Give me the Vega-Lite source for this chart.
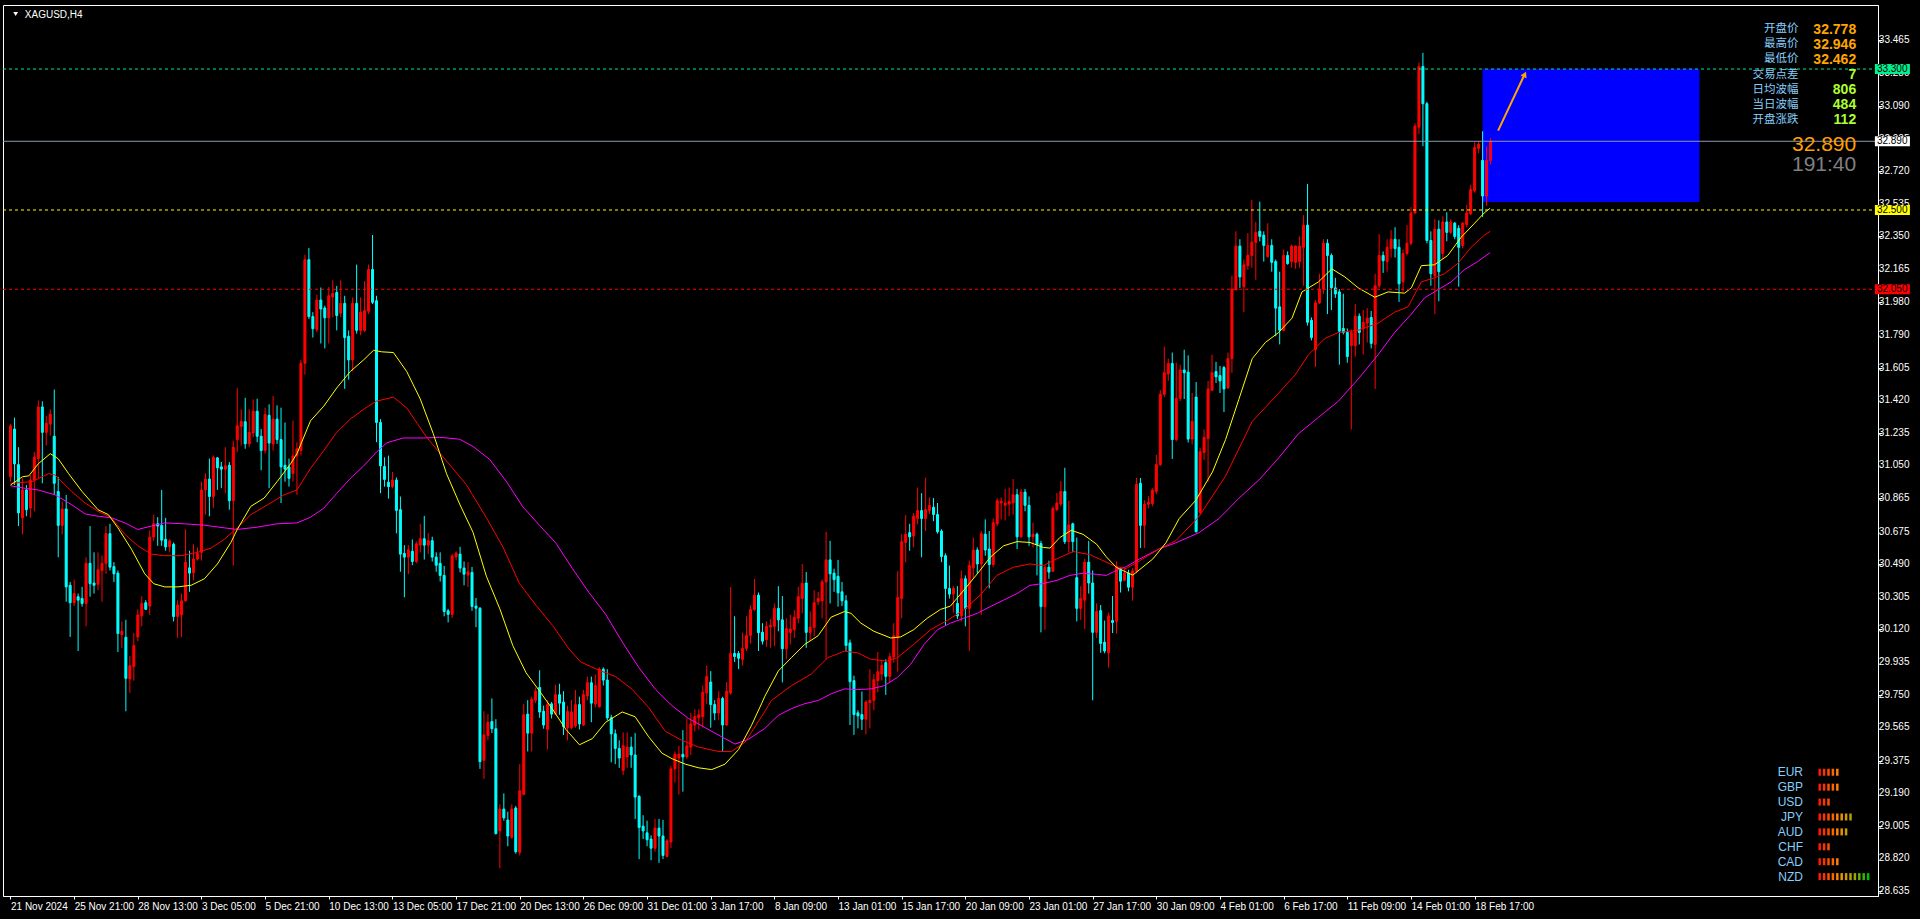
{
"$schema": "https://vega.github.io/schema/vega-lite/v6.json",
"width": 1875, "height": 891,
"autosize": {"type": "none"},
"padding": {"left": 3, "top": 5, "right": 42, "bottom": 23},
"background": "#000000",
"config": {"view": {"stroke": "#ffffff", "strokeWidth": 1}, "axis": {"grid": false, "labelOverlap": false}, "axisY": {"labelOverlap": false, "labelSeparation": -30}},
"datasets": {
"candles": [
{"i":0,"o":30.986,"h":31.285,"l":30.958,"c":31.275},{"i":1,"o":31.257,"h":31.322,"l":30.939,"c":31.059},{"i":2,"o":31.055,"h":31.154,"l":30.706,"c":30.781},{"i":3,"o":30.753,"h":30.977,"l":30.659,"c":30.911},{"i":4,"o":30.911,"h":30.939,"l":30.762,"c":30.799},{"i":5,"o":30.809,"h":30.995,"l":30.753,"c":30.967},{"i":6,"o":30.967,"h":31.126,"l":30.790,"c":31.098},{"i":7,"o":31.089,"h":31.419,"l":30.977,"c":31.382},{"i":8,"o":31.382,"h":31.414,"l":30.949,"c":31.238},{"i":9,"o":31.238,"h":31.332,"l":31.163,"c":31.290},
{"i":10,"o":31.285,"h":31.369,"l":31.219,"c":31.341},{"i":11,"o":31.216,"h":31.481,"l":30.883,"c":30.949},{"i":12,"o":30.902,"h":30.986,"l":30.529,"c":30.710},{"i":13,"o":30.710,"h":30.846,"l":30.659,"c":30.803},{"i":14,"o":30.803,"h":30.883,"l":30.277,"c":30.361},{"i":15,"o":30.370,"h":30.389,"l":30.077,"c":30.271},{"i":16,"o":30.271,"h":30.402,"l":30.252,"c":30.323},{"i":17,"o":30.305,"h":30.323,"l":29.997,"c":30.286},{"i":18,"o":30.295,"h":30.361,"l":30.249,"c":30.267},{"i":19,"o":30.267,"h":30.529,"l":30.137,"c":30.495},
{"i":20,"o":30.495,"h":30.706,"l":30.305,"c":30.379},{"i":21,"o":30.383,"h":30.557,"l":30.323,"c":30.370},{"i":22,"o":30.376,"h":30.557,"l":30.342,"c":30.458},{"i":23,"o":30.454,"h":30.538,"l":30.277,"c":30.495},{"i":24,"o":30.495,"h":30.706,"l":30.435,"c":30.663},{"i":25,"o":30.663,"h":30.719,"l":30.454,"c":30.473},{"i":26,"o":30.476,"h":30.501,"l":30.389,"c":30.435},{"i":27,"o":30.439,"h":30.454,"l":29.991,"c":30.096},{"i":28,"o":30.090,"h":30.165,"l":30.015,"c":30.109},{"i":29,"o":30.075,"h":30.174,"l":29.655,"c":29.842},
{"i":30,"o":29.838,"h":29.969,"l":29.760,"c":29.913},{"i":31,"o":29.909,"h":30.099,"l":29.829,"c":30.028},{"i":32,"o":30.077,"h":30.234,"l":30.053,"c":30.202},{"i":33,"o":30.196,"h":30.308,"l":30.137,"c":30.267},{"i":34,"o":30.271,"h":30.286,"l":30.230,"c":30.234},{"i":35,"o":30.252,"h":30.682,"l":30.202,"c":30.644},{"i":36,"o":30.644,"h":30.771,"l":30.622,"c":30.719},{"i":37,"o":30.719,"h":30.757,"l":30.594,"c":30.706},{"i":38,"o":30.710,"h":30.911,"l":30.594,"c":30.626},{"i":39,"o":30.631,"h":30.753,"l":30.566,"c":30.588},
{"i":40,"o":30.588,"h":30.631,"l":30.557,"c":30.622},{"i":41,"o":30.603,"h":30.613,"l":30.165,"c":30.193},{"i":42,"o":30.193,"h":30.286,"l":30.071,"c":30.258},{"i":43,"o":30.202,"h":30.323,"l":30.077,"c":30.282},{"i":44,"o":30.282,"h":30.687,"l":30.277,"c":30.501},{"i":45,"o":30.469,"h":30.566,"l":30.333,"c":30.439},{"i":46,"o":30.441,"h":30.603,"l":30.398,"c":30.519},{"i":47,"o":30.519,"h":30.585,"l":30.510,"c":30.551},{"i":48,"o":30.557,"h":30.958,"l":30.510,"c":30.911},{"i":49,"o":30.911,"h":31.005,"l":30.771,"c":30.973},
{"i":50,"o":30.973,"h":31.089,"l":30.762,"c":30.874},{"i":51,"o":30.874,"h":31.107,"l":30.809,"c":31.096},{"i":52,"o":31.093,"h":31.098,"l":30.911,"c":31.037},{"i":53,"o":31.042,"h":31.070,"l":30.921,"c":31.029},{"i":54,"o":31.029,"h":31.154,"l":30.893,"c":31.048},{"i":55,"o":31.051,"h":31.070,"l":30.799,"c":30.850},{"i":56,"o":30.850,"h":31.191,"l":30.482,"c":31.154},{"i":57,"o":31.197,"h":31.490,"l":31.126,"c":31.275},{"i":58,"o":31.272,"h":31.369,"l":31.163,"c":31.300},{"i":59,"o":31.298,"h":31.434,"l":31.145,"c":31.173},
{"i":60,"o":31.173,"h":31.369,"l":31.154,"c":31.238},{"i":61,"o":31.234,"h":31.425,"l":31.210,"c":31.358},{"i":62,"o":31.358,"h":31.429,"l":31.182,"c":31.216},{"i":63,"o":31.216,"h":31.257,"l":31.023,"c":31.135},{"i":64,"o":31.135,"h":31.378,"l":31.117,"c":31.339},{"i":65,"o":31.335,"h":31.397,"l":30.921,"c":31.177},{"i":66,"o":31.173,"h":31.444,"l":31.135,"c":31.313},{"i":67,"o":31.313,"h":31.391,"l":31.173,"c":31.197},{"i":68,"o":31.197,"h":31.378,"l":30.837,"c":31.042},{"i":69,"o":31.051,"h":31.294,"l":30.958,"c":31.029},
{"i":70,"o":31.042,"h":31.089,"l":30.930,"c":30.977},{"i":71,"o":31.005,"h":31.304,"l":30.958,"c":31.104},{"i":72,"o":31.104,"h":31.182,"l":30.883,"c":31.145},{"i":73,"o":31.135,"h":31.649,"l":31.107,"c":31.630},{"i":74,"o":31.630,"h":32.246,"l":31.565,"c":32.218},{"i":75,"o":32.218,"h":32.284,"l":31.882,"c":31.895},{"i":76,"o":31.895,"h":31.920,"l":31.776,"c":31.826},{"i":77,"o":31.821,"h":32.019,"l":31.808,"c":31.989},{"i":78,"o":31.989,"h":32.060,"l":31.742,"c":31.938},{"i":79,"o":31.944,"h":31.957,"l":31.714,"c":31.888},
{"i":80,"o":31.888,"h":32.063,"l":31.742,"c":32.013},{"i":81,"o":32.007,"h":32.101,"l":31.892,"c":32.026},{"i":82,"o":32.032,"h":32.069,"l":31.817,"c":31.901},{"i":83,"o":31.914,"h":32.101,"l":31.892,"c":31.970},{"i":84,"o":31.970,"h":32.013,"l":31.485,"c":31.776},{"i":85,"o":31.783,"h":31.817,"l":31.537,"c":31.649},{"i":86,"o":31.649,"h":32.004,"l":31.584,"c":31.970},{"i":87,"o":31.970,"h":32.190,"l":31.798,"c":31.817},{"i":88,"o":31.817,"h":32.004,"l":31.789,"c":31.920},{"i":89,"o":31.817,"h":32.097,"l":31.808,"c":31.929},
{"i":90,"o":31.925,"h":32.190,"l":31.910,"c":32.162},{"i":91,"o":32.162,"h":32.358,"l":31.966,"c":31.976},{"i":92,"o":31.985,"h":32.013,"l":31.182,"c":31.294},{"i":93,"o":31.294,"h":31.313,"l":30.893,"c":31.048},{"i":94,"o":31.044,"h":31.096,"l":30.930,"c":30.971},{"i":95,"o":30.955,"h":31.106,"l":30.862,"c":30.930},{"i":96,"o":30.930,"h":31.013,"l":30.920,"c":30.967},{"i":97,"o":30.967,"h":30.982,"l":30.665,"c":30.795},{"i":98,"o":30.799,"h":30.874,"l":30.447,"c":30.547},{"i":99,"o":30.551,"h":30.598,"l":30.302,"c":30.530},
{"i":100,"o":30.530,"h":30.598,"l":30.433,"c":30.571},{"i":101,"o":30.563,"h":30.630,"l":30.484,"c":30.505},{"i":102,"o":30.505,"h":30.619,"l":30.495,"c":30.605},{"i":103,"o":30.598,"h":30.717,"l":30.557,"c":30.634},{"i":104,"o":30.634,"h":30.764,"l":30.516,"c":30.598},{"i":105,"o":30.598,"h":30.665,"l":30.547,"c":30.623},{"i":106,"o":30.623,"h":30.646,"l":30.505,"c":30.530},{"i":107,"o":30.530,"h":30.557,"l":30.447,"c":30.484},{"i":108,"o":30.495,"h":30.557,"l":30.391,"c":30.426},{"i":109,"o":30.426,"h":30.480,"l":30.194,"c":30.221},
{"i":110,"o":30.225,"h":30.236,"l":30.159,"c":30.205},{"i":111,"o":30.205,"h":30.547,"l":30.184,"c":30.536},{"i":112,"o":30.532,"h":30.563,"l":30.511,"c":30.553},{"i":113,"o":30.547,"h":30.588,"l":30.443,"c":30.468},{"i":114,"o":30.468,"h":30.505,"l":30.370,"c":30.433},{"i":115,"o":30.428,"h":30.501,"l":30.360,"c":30.447},{"i":116,"o":30.443,"h":30.474,"l":30.225,"c":30.250},{"i":117,"o":30.252,"h":30.298,"l":30.132,"c":30.240},{"i":118,"o":30.240,"h":30.246,"l":29.328,"c":29.369},{"i":119,"o":29.376,"h":29.655,"l":29.272,"c":29.521},
{"i":120,"o":29.517,"h":29.639,"l":29.490,"c":29.593},{"i":121,"o":29.597,"h":29.728,"l":29.531,"c":29.556},{"i":122,"o":29.556,"h":29.610,"l":28.955,"c":28.961},{"i":123,"o":28.976,"h":29.127,"l":28.764,"c":29.100},{"i":124,"o":29.100,"h":29.189,"l":29.034,"c":29.050},{"i":125,"o":29.038,"h":29.085,"l":28.889,"c":28.947},{"i":126,"o":28.940,"h":29.127,"l":28.930,"c":29.100},{"i":127,"o":29.106,"h":29.117,"l":28.847,"c":28.858},{"i":128,"o":28.855,"h":29.355,"l":28.837,"c":29.204},{"i":129,"o":29.183,"h":29.697,"l":29.179,"c":29.635},
{"i":130,"o":29.639,"h":29.718,"l":29.427,"c":29.531},{"i":131,"o":29.531,"h":29.738,"l":29.427,"c":29.722},{"i":132,"o":29.718,"h":29.790,"l":29.701,"c":29.769},{"i":133,"o":29.790,"h":29.888,"l":29.618,"c":29.651},{"i":134,"o":29.655,"h":29.687,"l":29.556,"c":29.577},{"i":135,"o":29.552,"h":29.718,"l":29.438,"c":29.693},{"i":136,"o":29.697,"h":29.707,"l":29.614,"c":29.639},{"i":137,"o":29.639,"h":29.805,"l":29.635,"c":29.749},{"i":138,"o":29.749,"h":29.811,"l":29.635,"c":29.701},{"i":139,"o":29.707,"h":29.769,"l":29.521,"c":29.568},
{"i":140,"o":29.562,"h":29.687,"l":29.490,"c":29.655},{"i":141,"o":29.562,"h":29.718,"l":29.552,"c":29.651},{"i":142,"o":29.572,"h":29.776,"l":29.562,"c":29.693},{"i":143,"o":29.693,"h":29.738,"l":29.552,"c":29.583},{"i":144,"o":29.577,"h":29.776,"l":29.572,"c":29.749},{"i":145,"o":29.742,"h":29.852,"l":29.718,"c":29.817},{"i":146,"o":29.817,"h":29.852,"l":29.593,"c":29.701},{"i":147,"o":29.697,"h":29.863,"l":29.676,"c":29.801},{"i":148,"o":29.680,"h":29.904,"l":29.676,"c":29.894},{"i":149,"o":29.894,"h":29.904,"l":29.801,"c":29.832},
{"i":150,"o":29.832,"h":29.894,"l":29.604,"c":29.618},{"i":151,"o":29.618,"h":29.635,"l":29.365,"c":29.527},{"i":152,"o":29.527,"h":29.552,"l":29.355,"c":29.444},{"i":153,"o":29.444,"h":29.490,"l":29.334,"c":29.390},{"i":154,"o":29.320,"h":29.535,"l":29.293,"c":29.459},{"i":155,"o":29.396,"h":29.535,"l":29.334,"c":29.452},{"i":156,"o":29.452,"h":29.510,"l":29.334,"c":29.407},{"i":157,"o":29.407,"h":29.531,"l":29.044,"c":29.168},{"i":158,"o":29.172,"h":29.179,"l":28.816,"c":28.996},{"i":159,"o":29.003,"h":29.065,"l":28.930,"c":28.976},
{"i":160,"o":28.965,"h":29.034,"l":28.889,"c":28.926},{"i":161,"o":28.930,"h":28.951,"l":28.810,"c":28.878},{"i":162,"o":28.878,"h":29.044,"l":28.858,"c":28.992},{"i":163,"o":28.992,"h":29.044,"l":28.795,"c":28.947},{"i":164,"o":28.947,"h":29.038,"l":28.816,"c":28.837},{"i":165,"o":28.831,"h":28.930,"l":28.826,"c":28.920},{"i":166,"o":28.913,"h":29.345,"l":28.878,"c":29.328},{"i":167,"o":29.328,"h":29.427,"l":29.251,"c":29.411},{"i":168,"o":29.390,"h":29.459,"l":29.183,"c":29.411},{"i":169,"o":29.411,"h":29.548,"l":29.199,"c":29.396},
{"i":170,"o":29.396,"h":29.614,"l":29.386,"c":29.459},{"i":171,"o":29.452,"h":29.645,"l":29.407,"c":29.583},{"i":172,"o":29.577,"h":29.666,"l":29.541,"c":29.624},{"i":173,"o":29.618,"h":29.666,"l":29.552,"c":29.635},{"i":174,"o":29.624,"h":29.801,"l":29.562,"c":29.763},{"i":175,"o":29.759,"h":29.914,"l":29.697,"c":29.852},{"i":176,"o":29.821,"h":29.883,"l":29.562,"c":29.693},{"i":177,"o":29.693,"h":29.718,"l":29.604,"c":29.645},{"i":178,"o":29.645,"h":29.769,"l":29.604,"c":29.728},{"i":179,"o":29.728,"h":29.738,"l":29.427,"c":29.577},
{"i":180,"o":29.577,"h":29.821,"l":29.572,"c":29.769},{"i":181,"o":29.759,"h":30.360,"l":29.749,"c":29.983},{"i":182,"o":29.983,"h":30.194,"l":29.935,"c":29.966},{"i":183,"o":29.983,"h":29.997,"l":29.894,"c":29.956},{"i":184,"o":29.950,"h":30.101,"l":29.914,"c":30.012},{"i":185,"o":30.012,"h":30.194,"l":29.997,"c":30.086},{"i":186,"o":30.086,"h":30.256,"l":30.039,"c":30.232},{"i":187,"o":30.232,"h":30.406,"l":30.225,"c":30.314},{"i":188,"o":30.314,"h":30.329,"l":29.997,"c":30.101},{"i":189,"o":30.103,"h":30.155,"l":30.034,"c":30.053},
{"i":190,"o":30.062,"h":30.165,"l":30.021,"c":30.137},{"i":191,"o":30.133,"h":30.178,"l":30.015,"c":30.142},{"i":192,"o":30.137,"h":30.267,"l":30.025,"c":30.239},{"i":193,"o":30.239,"h":30.365,"l":30.109,"c":30.174},{"i":194,"o":30.174,"h":30.309,"l":29.819,"c":30.010},{"i":195,"o":30.010,"h":30.183,"l":29.950,"c":30.124},{"i":196,"o":30.103,"h":30.202,"l":30.034,"c":30.122},{"i":197,"o":30.118,"h":30.230,"l":30.071,"c":30.189},{"i":198,"o":30.183,"h":30.361,"l":30.155,"c":30.305},{"i":199,"o":30.295,"h":30.491,"l":30.211,"c":30.380},
{"i":200,"o":30.383,"h":30.445,"l":30.015,"c":30.103},{"i":201,"o":30.103,"h":30.221,"l":30.053,"c":30.133},{"i":202,"o":30.131,"h":30.342,"l":30.081,"c":30.271},{"i":203,"o":30.277,"h":30.333,"l":30.258,"c":30.295},{"i":204,"o":30.282,"h":30.402,"l":30.183,"c":30.389},{"i":205,"o":30.389,"h":30.674,"l":29.950,"c":30.514},{"i":206,"o":30.514,"h":30.622,"l":30.267,"c":30.435},{"i":207,"o":30.439,"h":30.464,"l":30.333,"c":30.402},{"i":208,"o":30.421,"h":30.514,"l":30.249,"c":30.327},{"i":209,"o":30.333,"h":30.389,"l":30.253,"c":30.282},
{"i":210,"o":30.282,"h":30.314,"l":29.997,"c":30.029},{"i":211,"o":30.043,"h":30.062,"l":29.577,"c":29.823},{"i":212,"o":29.829,"h":29.857,"l":29.521,"c":29.636},{"i":213,"o":29.646,"h":29.661,"l":29.558,"c":29.629},{"i":214,"o":29.636,"h":29.767,"l":29.549,"c":29.610},{"i":215,"o":29.610,"h":29.717,"l":29.524,"c":29.707},{"i":216,"o":29.704,"h":29.894,"l":29.558,"c":29.717},{"i":217,"o":29.717,"h":29.866,"l":29.661,"c":29.834},{"i":218,"o":29.829,"h":29.991,"l":29.763,"c":29.879},{"i":219,"o":29.866,"h":29.941,"l":29.829,"c":29.916},
{"i":220,"o":29.931,"h":29.950,"l":29.748,"c":29.853},{"i":221,"o":29.853,"h":29.987,"l":29.819,"c":29.965},{"i":222,"o":29.963,"h":30.155,"l":29.931,"c":30.084},{"i":223,"o":30.071,"h":30.450,"l":29.879,"c":30.301},{"i":224,"o":30.295,"h":30.660,"l":30.183,"c":30.618},{"i":225,"o":30.613,"h":30.768,"l":30.501,"c":30.660},{"i":226,"o":30.669,"h":30.719,"l":30.566,"c":30.645},{"i":227,"o":30.650,"h":30.781,"l":30.585,"c":30.762},{"i":228,"o":30.749,"h":30.925,"l":30.716,"c":30.794},{"i":229,"o":30.794,"h":30.893,"l":30.529,"c":30.749},
{"i":230,"o":30.749,"h":30.981,"l":30.678,"c":30.800},{"i":231,"o":30.794,"h":30.869,"l":30.775,"c":30.824},{"i":232,"o":30.813,"h":30.865,"l":30.734,"c":30.772},{"i":233,"o":30.772,"h":30.837,"l":30.663,"c":30.674},{"i":234,"o":30.678,"h":30.688,"l":30.501,"c":30.533},{"i":235,"o":30.538,"h":30.551,"l":30.141,"c":30.352},{"i":236,"o":30.352,"h":30.482,"l":30.295,"c":30.320},{"i":237,"o":30.320,"h":30.365,"l":30.215,"c":30.352},{"i":238,"o":30.267,"h":30.365,"l":30.178,"c":30.196},{"i":239,"o":30.196,"h":30.454,"l":30.165,"c":30.407},
{"i":240,"o":30.407,"h":30.426,"l":30.137,"c":30.239},{"i":241,"o":30.239,"h":30.510,"l":29.997,"c":30.482},{"i":242,"o":30.469,"h":30.641,"l":30.407,"c":30.570},{"i":243,"o":30.570,"h":30.585,"l":30.435,"c":30.491},{"i":244,"o":30.491,"h":30.678,"l":30.202,"c":30.663},{"i":245,"o":30.660,"h":30.744,"l":30.538,"c":30.570},{"i":246,"o":30.576,"h":30.678,"l":30.352,"c":30.488},{"i":247,"o":30.488,"h":30.749,"l":30.473,"c":30.725},{"i":248,"o":30.719,"h":30.865,"l":30.706,"c":30.850},{"i":249,"o":30.837,"h":30.869,"l":30.744,"c":30.846},
{"i":250,"o":30.824,"h":30.917,"l":30.738,"c":30.837},{"i":251,"o":30.831,"h":30.925,"l":30.762,"c":30.846},{"i":252,"o":30.837,"h":30.973,"l":30.772,"c":30.884},{"i":253,"o":30.884,"h":30.917,"l":30.576,"c":30.645},{"i":254,"o":30.645,"h":30.917,"l":30.641,"c":30.899},{"i":255,"o":30.899,"h":30.917,"l":30.790,"c":30.824},{"i":256,"o":30.824,"h":30.874,"l":30.594,"c":30.645},{"i":257,"o":30.645,"h":30.725,"l":30.585,"c":30.660},{"i":258,"o":30.660,"h":30.669,"l":30.426,"c":30.600},{"i":259,"o":30.607,"h":30.622,"l":30.103,"c":30.249},
{"i":260,"o":30.249,"h":30.482,"l":30.118,"c":30.473},{"i":261,"o":30.473,"h":30.510,"l":30.407,"c":30.445},{"i":262,"o":30.450,"h":30.818,"l":30.445,"c":30.805},{"i":263,"o":30.800,"h":30.893,"l":30.790,"c":30.837},{"i":264,"o":30.831,"h":30.962,"l":30.818,"c":30.902},{"i":265,"o":30.902,"h":31.037,"l":30.604,"c":30.618},{"i":266,"o":30.618,"h":30.850,"l":30.557,"c":30.712},{"i":267,"o":30.719,"h":30.725,"l":30.557,"c":30.618},{"i":268,"o":30.413,"h":30.641,"l":30.165,"c":30.239},{"i":269,"o":30.239,"h":30.365,"l":30.174,"c":30.295},
{"i":270,"o":30.286,"h":30.520,"l":30.122,"c":30.501},{"i":271,"o":30.501,"h":30.622,"l":30.323,"c":30.383},{"i":272,"o":30.383,"h":30.454,"l":29.717,"c":30.103},{"i":273,"o":30.103,"h":30.267,"l":30.071,"c":30.221},{"i":274,"o":30.226,"h":30.258,"l":29.987,"c":30.040},{"i":275,"o":30.047,"h":30.170,"l":29.984,"c":29.997},{"i":276,"o":29.987,"h":30.215,"l":29.903,"c":30.196},{"i":277,"o":30.170,"h":30.309,"l":30.099,"c":30.159},{"i":278,"o":30.165,"h":30.506,"l":30.096,"c":30.473},{"i":279,"o":30.458,"h":30.467,"l":30.329,"c":30.393},
{"i":280,"o":30.398,"h":30.467,"l":30.393,"c":30.439},{"i":281,"o":30.439,"h":30.458,"l":30.336,"c":30.359},{"i":282,"o":30.359,"h":30.467,"l":30.283,"c":30.451},{"i":283,"o":30.451,"h":30.979,"l":30.439,"c":30.944},{"i":284,"o":30.949,"h":30.979,"l":30.582,"c":30.710},{"i":285,"o":30.710,"h":30.853,"l":30.582,"c":30.830},{"i":286,"o":30.830,"h":30.876,"l":30.807,"c":30.841},{"i":287,"o":30.834,"h":30.921,"l":30.818,"c":30.910},{"i":288,"o":30.903,"h":31.110,"l":30.887,"c":31.055},{"i":289,"o":31.055,"h":31.477,"l":31.048,"c":31.454},
{"i":290,"o":31.454,"h":31.725,"l":31.438,"c":31.576},{"i":291,"o":31.569,"h":31.656,"l":31.530,"c":31.629},{"i":292,"o":31.629,"h":31.691,"l":31.087,"c":31.197},{"i":293,"o":31.197,"h":31.633,"l":31.186,"c":31.431},{"i":294,"o":31.431,"h":31.622,"l":31.415,"c":31.592},{"i":295,"o":31.592,"h":31.707,"l":31.427,"c":31.576},{"i":296,"o":31.580,"h":31.675,"l":31.180,"c":31.200},{"i":297,"o":31.200,"h":31.461,"l":31.169,"c":31.300},{"i":298,"o":31.438,"h":31.523,"l":30.669,"c":30.674},{"i":299,"o":30.784,"h":31.151,"l":30.772,"c":31.128},
{"i":300,"o":31.124,"h":31.254,"l":31.082,"c":31.209},{"i":301,"o":31.202,"h":31.530,"l":30.956,"c":31.484},{"i":302,"o":31.477,"h":31.679,"l":31.473,"c":31.576},{"i":303,"o":31.583,"h":31.638,"l":31.518,"c":31.553},{"i":304,"o":31.560,"h":31.615,"l":31.461,"c":31.530},{"i":305,"o":31.606,"h":31.615,"l":31.353,"c":31.484},{"i":306,"o":31.491,"h":31.691,"l":31.484,"c":31.656},{"i":307,"o":31.656,"h":32.127,"l":31.576,"c":32.051},{"i":308,"o":32.046,"h":32.379,"l":32.046,"c":32.295},{"i":309,"o":32.295,"h":32.334,"l":32.058,"c":32.120},
{"i":310,"o":32.065,"h":32.219,"l":31.920,"c":32.189},{"i":311,"o":32.184,"h":32.368,"l":32.161,"c":32.242},{"i":312,"o":32.242,"h":32.556,"l":32.173,"c":32.317},{"i":313,"o":32.317,"h":32.432,"l":32.104,"c":32.373},{"i":314,"o":32.379,"h":32.547,"l":32.322,"c":32.350},{"i":315,"o":32.357,"h":32.379,"l":32.207,"c":32.299},{"i":316,"o":32.235,"h":32.425,"l":32.230,"c":32.299},{"i":317,"o":32.299,"h":32.334,"l":32.150,"c":32.203},{"i":318,"o":32.207,"h":32.219,"l":31.783,"c":31.943},{"i":319,"o":31.950,"h":32.150,"l":31.737,"c":31.817},
{"i":320,"o":31.817,"h":32.276,"l":31.812,"c":32.242},{"i":321,"o":32.242,"h":32.265,"l":32.189,"c":32.196},{"i":322,"o":32.207,"h":32.304,"l":32.173,"c":32.295},{"i":323,"o":32.203,"h":32.299,"l":32.166,"c":32.295},{"i":324,"o":32.207,"h":32.350,"l":32.173,"c":32.295},{"i":325,"o":32.288,"h":32.471,"l":32.070,"c":32.414},{"i":326,"o":32.414,"h":32.648,"l":31.844,"c":31.863},{"i":327,"o":31.874,"h":31.890,"l":31.760,"c":31.776},{"i":328,"o":31.707,"h":31.989,"l":31.610,"c":31.973},{"i":329,"o":31.973,"h":32.138,"l":31.966,"c":32.051},
{"i":330,"o":32.051,"h":32.334,"l":32.024,"c":32.311},{"i":331,"o":32.311,"h":32.334,"l":31.909,"c":32.242},{"i":332,"o":32.242,"h":32.253,"l":31.932,"c":32.058},{"i":333,"o":32.058,"h":32.115,"l":32.001,"c":32.024},{"i":334,"o":32.035,"h":32.051,"l":31.622,"c":31.812},{"i":335,"o":31.828,"h":32.024,"l":31.794,"c":31.805},{"i":336,"o":31.805,"h":31.828,"l":31.633,"c":31.668},{"i":337,"o":31.730,"h":31.822,"l":31.254,"c":31.805},{"i":338,"o":31.730,"h":31.966,"l":31.668,"c":31.897},{"i":339,"o":31.897,"h":31.913,"l":31.737,"c":31.805},
{"i":340,"o":31.828,"h":31.932,"l":31.679,"c":31.863},{"i":341,"o":31.858,"h":31.943,"l":31.748,"c":31.886},{"i":342,"o":31.890,"h":31.927,"l":31.714,"c":31.743},{"i":343,"o":31.737,"h":32.138,"l":31.484,"c":32.070},{"i":344,"o":32.070,"h":32.363,"l":32.058,"c":32.242},{"i":345,"o":32.242,"h":32.265,"l":32.143,"c":32.212},{"i":346,"o":32.207,"h":32.334,"l":32.150,"c":32.288},{"i":347,"o":32.281,"h":32.386,"l":32.230,"c":32.334},{"i":348,"o":32.334,"h":32.402,"l":32.230,"c":32.281},{"i":349,"o":32.288,"h":32.334,"l":31.978,"c":32.081},
{"i":350,"o":32.092,"h":32.276,"l":32.035,"c":32.253},{"i":351,"o":32.253,"h":32.414,"l":32.242,"c":32.311},{"i":352,"o":32.311,"h":32.517,"l":32.299,"c":32.483},{"i":353,"o":32.483,"h":32.992,"l":32.478,"c":32.976},{"i":354,"o":32.970,"h":33.337,"l":32.930,"c":33.314},{"i":355,"o":33.314,"h":33.392,"l":32.862,"c":33.103},{"i":356,"o":33.103,"h":33.114,"l":32.311,"c":32.327},{"i":357,"o":32.327,"h":32.379,"l":32.070,"c":32.138},{"i":358,"o":32.127,"h":32.448,"l":31.909,"c":32.391},{"i":359,"o":32.391,"h":32.441,"l":31.982,"c":32.150},
{"i":360,"o":32.253,"h":32.464,"l":32.219,"c":32.432},{"i":361,"o":32.432,"h":32.487,"l":32.322,"c":32.373},{"i":362,"o":32.373,"h":32.448,"l":32.363,"c":32.432},{"i":363,"o":32.425,"h":32.432,"l":32.334,"c":32.350},{"i":364,"o":32.396,"h":32.414,"l":32.065,"c":32.288},{"i":365,"o":32.299,"h":32.432,"l":32.281,"c":32.425},{"i":366,"o":32.418,"h":32.529,"l":32.402,"c":32.483},{"i":367,"o":32.478,"h":32.643,"l":32.471,"c":32.616},{"i":368,"o":32.609,"h":32.885,"l":32.598,"c":32.855},{"i":369,"o":32.850,"h":32.891,"l":32.823,"c":32.873},
{"i":370,"o":32.781,"h":32.947,"l":32.460,"c":32.579},{"i":371,"o":32.579,"h":32.862,"l":32.524,"c":32.781},{"i":372,"o":32.781,"h":32.908,"l":32.758,"c":32.890}
],
"maY": [
{"i":0,"v":30.939},{"i":3,"v":30.986},{"i":4.6,"v":30.991},{"i":7,"v":31.060},{"i":10,"v":31.117},{"i":12,"v":31.088},{"i":14.6,"v":31.004},{"i":18,"v":30.902},{"i":22,"v":30.799},{"i":24.6,"v":30.771},{"i":27,"v":30.696},{"i":30.4,"v":30.575},{"i":33.75,"v":30.435},{"i":36,"v":30.379},{"i":38.75,"v":30.361},{"i":42,"v":30.361},{"i":45.4,"v":30.370},{"i":48.75,"v":30.407},{"i":52,"v":30.491},{"i":55.4,"v":30.613},{"i":57,"v":30.687},{"i":60.4,"v":30.818},{"i":63.75,"v":30.865},{"i":67,"v":30.958},{"i":70.4,"v":31.060},{"i":72,"v":31.117},{"i":75.4,"v":31.303},{"i":78.75,"v":31.387},{"i":82,"v":31.490},{"i":85.4,"v":31.583},{"i":88.75,"v":31.649},{"i":91.25,"v":31.704},{"i":93.3,"v":31.695},{"i":96.25,"v":31.691},{"i":99.6,"v":31.583},{"i":103,"v":31.427},{"i":106.25,"v":31.231},{"i":109.6,"v":31.003},{"i":113,"v":30.826},{"i":116.25,"v":30.671},{"i":119.6,"v":30.422},{"i":123,"v":30.236},{"i":126.25,"v":30.028},{"i":129.6,"v":29.873},{"i":133,"v":29.769},{"i":136.25,"v":29.666},{"i":139.6,"v":29.552},{"i":143,"v":29.465},{"i":146.25,"v":29.500},{"i":149.6,"v":29.593},{"i":153.75,"v":29.651},{"i":157,"v":29.624},{"i":160.4,"v":29.510},{"i":163.75,"v":29.417},{"i":166.25,"v":29.386},{"i":169.6,"v":29.355},{"i":173,"v":29.334},{"i":176.25,"v":29.324},{"i":179.6,"v":29.355},{"i":183,"v":29.438},{"i":186.25,"v":29.575},{"i":188.75,"v":29.697},{"i":189.6,"v":29.740},{"i":193,"v":29.884},{"i":196.25,"v":29.959},{"i":199.6,"v":30.034},{"i":203,"v":30.084},{"i":206.25,"v":30.189},{"i":209.6,"v":30.221},{"i":211.25,"v":30.211},{"i":213.75,"v":30.155},{"i":217,"v":30.109},{"i":221.25,"v":30.071},{"i":223.75,"v":30.077},{"i":227,"v":30.118},{"i":230.4,"v":30.183},{"i":233.75,"v":30.233},{"i":236.25,"v":30.252},{"i":239.6,"v":30.342},{"i":243,"v":30.435},{"i":246.25,"v":30.529},{"i":249.6,"v":30.594},{"i":253,"v":30.618},{"i":256.25,"v":30.613},{"i":259.6,"v":30.585},{"i":261.25,"v":30.581},{"i":263.75,"v":30.641},{"i":266.6,"v":30.682},{"i":269.6,"v":30.659},{"i":273,"v":30.603},{"i":275.4,"v":30.532},{"i":277.9,"v":30.473},{"i":280.4,"v":30.445},{"i":282.1,"v":30.428},{"i":287.1,"v":30.519},{"i":290.4,"v":30.611},{"i":293.75,"v":30.749},{"i":297.9,"v":30.852},{"i":302.1,"v":31.013},{"i":305.4,"v":31.197},{"i":308.75,"v":31.426},{"i":312.1,"v":31.656},{"i":315.4,"v":31.748},{"i":318.75,"v":31.805},{"i":322.1,"v":31.886},{"i":324.6,"v":32.035},{"i":328.75,"v":32.092},{"i":332.1,"v":32.166},{"i":335.4,"v":32.120},{"i":338.75,"v":32.058},{"i":342.9,"v":32.005},{"i":346.25,"v":32.035},{"i":350.4,"v":32.028},{"i":352.1,"v":32.058},{"i":354.6,"v":32.184},{"i":357.9,"v":32.189},{"i":361.25,"v":32.242},{"i":364.6,"v":32.345},{"i":368,"v":32.425},{"i":370.4,"v":32.483},{"i":371.9,"v":32.510}
],
"maR": [
{"i":0,"v":30.949},{"i":5.4,"v":30.958},{"i":9.6,"v":31.004},{"i":11.25,"v":30.995},{"i":15.4,"v":30.902},{"i":18.75,"v":30.837},{"i":22,"v":30.790},{"i":25.4,"v":30.753},{"i":28.75,"v":30.659},{"i":32,"v":30.594},{"i":35.4,"v":30.547},{"i":38.75,"v":30.538},{"i":42.9,"v":30.538},{"i":47,"v":30.557},{"i":50.4,"v":30.581},{"i":53.75,"v":30.631},{"i":57,"v":30.696},{"i":60.4,"v":30.771},{"i":64.6,"v":30.827},{"i":68.75,"v":30.883},{"i":72,"v":30.911},{"i":75.4,"v":31.033},{"i":78.75,"v":31.135},{"i":82,"v":31.238},{"i":85.4,"v":31.313},{"i":88.75,"v":31.369},{"i":92,"v":31.415},{"i":96.25,"v":31.438},{"i":99.6,"v":31.376},{"i":104.6,"v":31.210},{"i":109.6,"v":31.075},{"i":114.6,"v":30.940},{"i":119.6,"v":30.754},{"i":123.75,"v":30.588},{"i":127.9,"v":30.381},{"i":132.1,"v":30.256},{"i":136.25,"v":30.142},{"i":140.4,"v":30.008},{"i":143.3,"v":29.935},{"i":147.9,"v":29.888},{"i":152.1,"v":29.852},{"i":156.25,"v":29.780},{"i":160.4,"v":29.676},{"i":164.6,"v":29.541},{"i":168.75,"v":29.490},{"i":172.9,"v":29.452},{"i":177.9,"v":29.427},{"i":181.25,"v":29.427},{"i":184.6,"v":29.479},{"i":188.75,"v":29.624},{"i":191.25,"v":29.716},{"i":196.25,"v":29.800},{"i":201.25,"v":29.866},{"i":205.4,"v":29.959},{"i":209.6,"v":29.996},{"i":212.9,"v":29.987},{"i":216.25,"v":29.950},{"i":220.4,"v":29.940},{"i":222.9,"v":29.959},{"i":227,"v":30.034},{"i":231.25,"v":30.118},{"i":235.4,"v":30.170},{"i":239.6,"v":30.230},{"i":243.75,"v":30.314},{"i":247.9,"v":30.426},{"i":252.1,"v":30.473},{"i":256.25,"v":30.491},{"i":259.6,"v":30.482},{"i":262.9,"v":30.519},{"i":267.1,"v":30.562},{"i":271.25,"v":30.544},{"i":274.6,"v":30.510},{"i":277.9,"v":30.476},{"i":280.4,"v":30.465},{"i":283.75,"v":30.508},{"i":288.75,"v":30.577},{"i":292.9,"v":30.623},{"i":298.75,"v":30.761},{"i":305.4,"v":30.990},{"i":312.1,"v":31.300},{"i":318.75,"v":31.461},{"i":322.9,"v":31.564},{"i":326.25,"v":31.679},{"i":330.4,"v":31.771},{"i":333.75,"v":31.805},{"i":338.75,"v":31.817},{"i":343.75,"v":31.858},{"i":347.9,"v":31.920},{"i":351.25,"v":31.950},{"i":354.6,"v":32.092},{"i":357.9,"v":32.115},{"i":360.4,"v":32.138},{"i":363.75,"v":32.196},{"i":367.1,"v":32.288},{"i":370.4,"v":32.356},{"i":371.9,"v":32.379}
],
"maM": [
{"i":0,"v":30.935},{"i":3.75,"v":30.920},{"i":7,"v":30.911},{"i":11.25,"v":30.883},{"i":15.4,"v":30.827},{"i":18.75,"v":30.775},{"i":22,"v":30.762},{"i":25.4,"v":30.753},{"i":28.75,"v":30.724},{"i":32,"v":30.687},{"i":35.4,"v":30.706},{"i":38.75,"v":30.724},{"i":43.75,"v":30.719},{"i":48.75,"v":30.711},{"i":53.75,"v":30.696},{"i":57,"v":30.687},{"i":62,"v":30.700},{"i":67,"v":30.719},{"i":72,"v":30.724},{"i":75.4,"v":30.756},{"i":78.75,"v":30.808},{"i":82,"v":30.892},{"i":85.4,"v":30.976},{"i":88.75,"v":31.047},{"i":92,"v":31.126},{"i":94.6,"v":31.179},{"i":98.75,"v":31.206},{"i":103.75,"v":31.206},{"i":107.9,"v":31.210},{"i":112.9,"v":31.199},{"i":116.25,"v":31.158},{"i":120.4,"v":31.085},{"i":124.6,"v":30.961},{"i":128.75,"v":30.816},{"i":132.9,"v":30.712},{"i":137.1,"v":30.609},{"i":141.25,"v":30.464},{"i":145.4,"v":30.329},{"i":149.6,"v":30.205},{"i":153.75,"v":30.049},{"i":157.9,"v":29.904},{"i":162.1,"v":29.780},{"i":166.25,"v":29.687},{"i":170.4,"v":29.614},{"i":174.6,"v":29.562},{"i":178.75,"v":29.510},{"i":182.1,"v":29.469},{"i":185.4,"v":29.495},{"i":189.6,"v":29.558},{"i":193,"v":29.632},{"i":196.25,"v":29.670},{"i":199.6,"v":29.698},{"i":203,"v":29.716},{"i":206.25,"v":29.754},{"i":209.6,"v":29.782},{"i":212.9,"v":29.778},{"i":216.25,"v":29.782},{"i":219.6,"v":29.800},{"i":222.9,"v":29.847},{"i":226.25,"v":29.922},{"i":229.6,"v":30.034},{"i":233,"v":30.118},{"i":236.25,"v":30.155},{"i":239.6,"v":30.183},{"i":243,"v":30.211},{"i":246.25,"v":30.249},{"i":249.6,"v":30.286},{"i":253,"v":30.323},{"i":256.25,"v":30.370},{"i":259.6,"v":30.380},{"i":263,"v":30.398},{"i":266.25,"v":30.426},{"i":269.6,"v":30.439},{"i":273,"v":30.432},{"i":275.4,"v":30.426},{"i":277.9,"v":30.454},{"i":280.4,"v":30.475},{"i":283.75,"v":30.519},{"i":288.75,"v":30.577},{"i":292.9,"v":30.611},{"i":298.75,"v":30.669},{"i":303.75,"v":30.749},{"i":308.75,"v":30.864},{"i":313.75,"v":30.967},{"i":318.75,"v":31.093},{"i":323.75,"v":31.231},{"i":328.75,"v":31.323},{"i":333.75,"v":31.415},{"i":338.75,"v":31.541},{"i":343.75,"v":31.679},{"i":347.9,"v":31.805},{"i":352.1,"v":31.909},{"i":355.4,"v":32.001},{"i":358.75,"v":32.047},{"i":362.1,"v":32.092},{"i":365.4,"v":32.161},{"i":368.75,"v":32.207},{"i":371.9,"v":32.258}
],
"levels": [{"p":33.3,"kind":"tp"},{"p":32.89,"kind":"cur"},{"p":32.5,"kind":"entry"},{"p":32.05,"kind":"sl"}],
"yticks": [{"p":33.465},{"p":33.28},{"p":33.09},{"p":32.905},{"p":32.72},{"p":32.535},{"p":32.35},{"p":32.165},{"p":31.98},{"p":31.79},{"p":31.605},{"p":31.42},{"p":31.235},{"p":31.05},{"p":30.865},{"p":30.675},{"p":30.49},{"p":30.305},{"p":30.12},{"p":29.935},{"p":29.75},{"p":29.565},{"p":29.375},{"p":29.19},{"p":29.005},{"p":28.82},{"p":28.635}],
"ccy": [{"cur":"EUR","r":0},{"cur":"GBP","r":1},{"cur":"USD","r":2},{"cur":"JPY","r":3},{"cur":"AUD","r":4},{"cur":"CHF","r":5},{"cur":"CAD","r":6},{"cur":"NZD","r":7}],
"segs": [
{"r":0,"k":1},{"r":0,"k":2},{"r":0,"k":3},{"r":0,"k":4},{"r":0,"k":5},
{"r":1,"k":1},{"r":1,"k":2},{"r":1,"k":3},{"r":1,"k":4},{"r":1,"k":5},
{"r":2,"k":1},{"r":2,"k":2},{"r":2,"k":3},
{"r":3,"k":1},{"r":3,"k":2},{"r":3,"k":3},{"r":3,"k":4},{"r":3,"k":5},{"r":3,"k":6},{"r":3,"k":7},{"r":3,"k":8},
{"r":4,"k":1},{"r":4,"k":2},{"r":4,"k":3},{"r":4,"k":4},{"r":4,"k":5},{"r":4,"k":6},{"r":4,"k":7},
{"r":5,"k":1},{"r":5,"k":2},{"r":5,"k":3},
{"r":6,"k":1},{"r":6,"k":2},{"r":6,"k":3},{"r":6,"k":4},{"r":6,"k":5},
{"r":7,"k":1},{"r":7,"k":2},{"r":7,"k":3},{"r":7,"k":4},{"r":7,"k":5},{"r":7,"k":6},{"r":7,"k":7},{"r":7,"k":8},{"r":7,"k":9},{"r":7,"k":10},{"r":7,"k":11},{"r":7,"k":12}
]
},
"layer": [
{
"layer": [
{"data": {"values": [{}]},
 "mark": {"type": "rect", "color": "#0000ff"},
 "encoding": {
  "x": {"datum": 370, "type": "quantitative", "scale": {"domain": [-0.625, 468.125], "nice": false, "zero": false},
        "axis": {"orient": "bottom", "values": [0,16,32,48,64,80,96,112,128,144,160,176,192,208,224,240,256,272,288,304,320,336,352,368],
                 "labelExpr": "['21 Nov 2024','25 Nov 21:00','28 Nov 13:00','3 Dec 05:00','5 Dec 21:00','10 Dec 13:00','13 Dec 05:00','17 Dec 21:00','20 Dec 13:00','26 Dec 09:00','31 Dec 01:00','3 Jan 17:00','8 Jan 09:00','13 Jan 01:00','15 Jan 17:00','20 Jan 09:00','23 Jan 01:00','27 Jan 17:00','30 Jan 09:00','4 Feb 01:00','6 Feb 17:00','11 Feb 09:00','14 Feb 01:00','18 Feb 17:00'][round(datum.value/16)]",
                 "labelAlign": "left", "labelBaseline": "top", "labelPadding": 2, "tickSize": 3, "title": null,
                 "labelColor": "#ffffff", "labelFont": "Liberation Sans", "labelFontSize": 10, "tickColor": "#ffffff", "domainColor": "#ffffff",
                 "labelOverlap": false, "labelFlush": false, "labelBound": false}},
  "x2": {"datum": 424.5},
  "y": {"datum": 32.545, "type": "quantitative", "scale": {"domain": [28.635, 33.635], "nice": false, "zero": false},
        "axis": {"orient": "right", "values": [33.465,33.28,33.09,32.905,32.72,32.535,32.35,32.165,31.98,31.79,31.605,31.42,31.235,31.05,30.865,30.675,30.49,30.305,30.12,29.935,29.75,29.565,29.375,29.19,29.005,28.82,28.635],
                 "labels": false, "title": null, "tickSize": 4,
                 "tickColor": "#ffffff", "domainColor": "#ffffff"}},
  "y2": {"datum": 33.3}
 }},
{"data": {"name": "candles"},
 "mark": {"type": "rule", "strokeWidth": 1},
 "encoding": {
  "x": {"field": "i", "type": "quantitative"},
  "y": {"field": "l", "type": "quantitative"},
  "y2": {"field": "h"},
  "color": {"condition": {"test": "datum.c >= datum.o", "value": "#ff0000"}, "value": "#00ffff"}
 }},
{"data": {"name": "candles"},
 "mark": {"type": "bar", "size": 2, "strokeWidth": 1},
 "encoding": {
  "x": {"field": "i", "type": "quantitative"},
  "y": {"field": "o", "type": "quantitative"},
  "y2": {"field": "c"},
  "fill": {"condition": {"test": "datum.c >= datum.o", "value": "#ff0000"}, "value": "#00ffff"},
  "stroke": {"condition": {"test": "datum.c >= datum.o", "value": "#ff0000"}, "value": "#00ffff"}
 }},
{"data": {"name": "maM"}, "mark": {"type": "line", "color": "#ff00ff", "strokeWidth": 1},
 "encoding": {"x": {"field": "i", "type": "quantitative"}, "y": {"field": "v", "type": "quantitative"}}},
{"data": {"name": "maR"}, "mark": {"type": "line", "color": "#ff0000", "strokeWidth": 1},
 "encoding": {"x": {"field": "i", "type": "quantitative"}, "y": {"field": "v", "type": "quantitative"}}},
{"data": {"name": "maY"}, "mark": {"type": "line", "color": "#ffff00", "strokeWidth": 1},
 "encoding": {"x": {"field": "i", "type": "quantitative"}, "y": {"field": "v", "type": "quantitative"}}},
{"data": {"name": "yticks"},
 "mark": {"type": "text", "align": "left", "baseline": "middle", "font": "Liberation Sans", "fontSize": 10, "color": "#ffffff"},
 "encoding": {
  "y": {"field": "p", "type": "quantitative"},
  "x": {"datum": 469.6},
  "text": {"field": "p", "type": "quantitative", "format": ".3f"}
 }},
{"data": {"name": "levels"},
 "mark": {"type": "rule", "strokeWidth": 1},
 "encoding": {
  "y": {"field": "p", "type": "quantitative"},
  "color": {"field": "kind", "type": "nominal", "scale": {"domain": ["tp","cur","entry","sl"], "range": ["#00e68a","#8c9aab","#ffff00","#ff0000"]}, "legend": null},
  "strokeDash": {"field": "kind", "type": "nominal", "scale": {"domain": ["tp","cur","entry","sl"], "range": [[3,3],[1,0],[3,3],[3,3]]}, "legend": null}
 }},
{"data": {"name": "levels"},
 "mark": {"type": "bar", "size": 10},
 "encoding": {
  "y": {"field": "p", "type": "quantitative"},
  "x": {"datum": 468.6},
  "x2": {"datum": 477.4},
  "fill": {"field": "kind", "type": "nominal", "scale": {"domain": ["tp","cur","entry","sl"], "range": ["#00f090","#ffffff","#ffff00","#ff0000"]}, "legend": null}
 }},
{"data": {"name": "levels"},
 "mark": {"type": "text", "align": "left", "baseline": "middle", "font": "Liberation Sans", "fontSize": 10, "color": "#000000"},
 "encoding": {
  "y": {"field": "p", "type": "quantitative"},
  "x": {"datum": 469.1},
  "text": {"field": "p", "type": "quantitative", "format": ".3f"}
 }},
{"data": {"values": [{}]},
 "mark": {"type": "text", "align": "right", "baseline": "top", "font": "Noto Sans CJK SC", "fontSize": 11.5, "lineHeight": 15.1, "color": "#87cefa",
          "text": ["开盘价","最高价","最低价","交易点差","日均波幅","当日波幅","开盘涨跌"]},
 "encoding": {"x": {"datum": 449.4}, "y": {"datum": 33.56}}},
{"data": {"values": [{}]},
 "mark": {"type": "text", "align": "right", "baseline": "top", "font": "Liberation Sans", "fontWeight": "bold", "fontSize": 14, "lineHeight": 15.1, "color": "#ffa500",
          "text": ["32.778","32.946","32.462"]},
 "encoding": {"x": {"datum": 463.9}, "y": {"datum": 33.56}}},
{"data": {"values": [{}]},
 "mark": {"type": "text", "align": "right", "baseline": "top", "font": "Liberation Sans", "fontWeight": "bold", "fontSize": 14, "lineHeight": 15.1, "color": "#adff2f",
          "text": ["7","806","484","112"]},
 "encoding": {"x": {"datum": 463.9}, "y": {"datum": 33.306}}},
{"data": {"values": [{}]},
 "mark": {"type": "text", "align": "right", "baseline": "middle", "font": "Liberation Sans", "fontSize": 21, "color": "#ff9f00", "text": "32.890"},
 "encoding": {"x": {"datum": 463.9}, "y": {"datum": 32.866}}},
{"data": {"values": [{}]},
 "mark": {"type": "text", "align": "right", "baseline": "middle", "font": "Liberation Sans", "fontSize": 21, "color": "#808080", "text": "191:40"},
 "encoding": {"x": {"datum": 463.9}, "y": {"datum": 32.756}}},
{"data": {"values": [{}]},
 "mark": {"type": "rule", "color": "#ffa500", "strokeWidth": 2},
 "encoding": {"x": {"datum": 373.9}, "x2": {"datum": 380.4}, "y": {"datum": 32.95}, "y2": {"datum": 33.262}}},
{"data": {"values": [{}]},
 "mark": {"type": "point", "shape": "triangle-up", "filled": true, "color": "#ffa500", "size": 45, "angle": 25, "opacity": 1},
 "encoding": {"x": {"datum": 380.6}, "y": {"datum": 33.27}}},
{"data": {"values": [{}]},
 "mark": {"type": "point", "shape": "triangle-down", "filled": true, "color": "#ffffff", "size": 22, "opacity": 1},
 "encoding": {"x": {"datum": 1.3}, "y": {"datum": 33.612}}},
{"data": {"values": [{}]},
 "mark": {"type": "text", "align": "left", "baseline": "middle", "font": "Liberation Sans", "fontSize": 10, "color": "#ffffff", "text": "XAGUSD,H4"},
 "encoding": {"x": {"datum": 3.6}, "y": {"datum": 33.607}}}
]
},
{
"layer": [
{"data": {"name": "ccy"},
 "mark": {"type": "text", "align": "right", "baseline": "middle", "font": "Liberation Sans", "fontSize": 12, "color": "#87cefa"},
 "encoding": {
  "x": {"datum": -2.8, "type": "quantitative", "scale": {"domain": [-411.89, 14.25], "nice": false, "zero": false}, "axis": null},
  "y": {"field": "r", "type": "quantitative", "scale": {"domain": [-51.46, 8.3], "reverse": true, "nice": false, "zero": false}, "axis": null},
  "text": {"field": "cur"}
 }},
{"data": {"name": "segs"},
 "mark": {"type": "tick", "orient": "vertical", "size": 7, "thickness": 2.5, "opacity": 1},
 "encoding": {
  "x": {"field": "k", "type": "quantitative"},
  "y": {"field": "r", "type": "quantitative"},
  "color": {"field": "k", "type": "ordinal", "scale": {"domain": [1,2,3,4,5,6,7,8,9,10,11,12], "range": ["#ff1a00","#ff3300","#ff4d00","#ff6600","#ff8000","#e69500","#cc9900","#b3a000","#99a600","#66b000","#33b800","#00c000"]}, "legend": null}
 }}
]
}
],
"resolve": {"scale": {"x": "independent", "y": "independent", "color": "independent", "fill": "independent"}}
}
